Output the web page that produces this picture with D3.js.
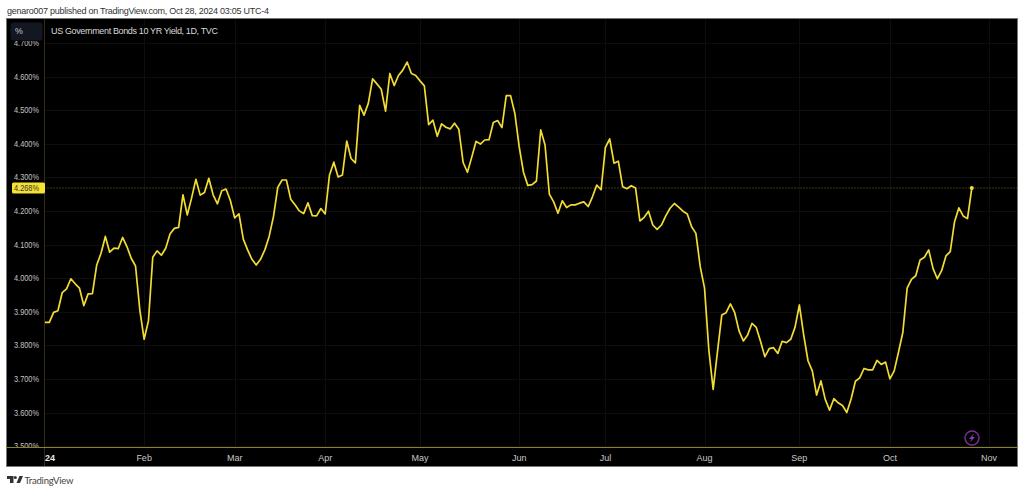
<!DOCTYPE html>
<html><head><meta charset="utf-8">
<style>html,body{margin:0;padding:0;background:#fff;overflow:hidden}svg{display:block}text{font-family:"Liberation Sans",sans-serif}</style>
<script src="https://cdnjs.cloudflare.com/ajax/libs/d3/7.8.5/d3.min.js"></script>
</head><body><svg id="c" width="1024" height="492"></svg>
<script>
const yields=[3.868,3.868,3.898,3.903,3.957,3.968,3.998,3.983,3.970,3.918,3.953,3.954,4.039,4.074,4.124,4.077,4.089,4.088,4.121,4.094,4.059,4.036,3.905,3.818,3.873,4.062,4.081,4.068,4.089,4.131,4.148,4.151,4.248,4.188,4.238,4.294,4.247,4.255,4.297,4.248,4.221,4.260,4.265,4.231,4.179,4.191,4.116,4.084,4.056,4.039,4.056,4.084,4.124,4.183,4.270,
4.292,4.292,4.235,4.218,4.200,4.192,4.224,4.186,4.185,4.207,4.191,4.307,4.345,4.301,4.307,4.408,4.356,4.343,4.514,4.485,4.520,4.593,4.578,4.562,4.497,4.609,4.573,4.603,4.619,4.643,4.609,4.603,4.587,4.572,4.457,4.470,4.422,4.459,4.449,4.444,4.461,4.443,4.344,4.315,4.360,4.407,4.399,4.411,4.412,4.463,4.469,4.448,4.543,4.543,
4.490,4.391,4.315,4.276,4.278,4.289,4.441,4.396,4.250,4.227,4.193,4.230,4.210,4.218,4.218,4.223,4.227,4.213,4.242,4.277,4.263,4.389,4.414,4.342,4.348,4.272,4.266,4.275,4.268,4.170,4.181,4.199,4.158,4.145,4.158,4.185,4.208,4.222,4.211,4.199,4.191,4.153,4.133,
4.034,3.970,3.786,3.669,3.781,3.890,3.897,3.923,3.897,3.843,3.813,3.831,3.865,3.853,3.811,3.766,3.790,3.793,3.776,3.812,3.808,3.818,3.854,3.920,3.831,3.754,3.724,3.652,3.694,3.639,3.607,3.641,3.629,3.621,3.600,3.640,3.693,3.703,3.731,3.727,3.727,3.755,3.743,3.750,3.700,3.724,3.780,3.838,3.970,3.996,4.007,4.054,
4.062,4.084,4.029,3.998,4.022,4.066,4.079,4.168,4.209,4.185,4.177,4.268];
const priceTicks=[3.5,3.6,3.7,3.8,3.9,4.0,4.1,4.2,4.3,4.4,4.5,4.6,4.7];
const monthLabels=["24","Feb","Mar","Apr","May","Jun","Jul","Aug","Sep","Oct","Nov"];
const monthIndex=[0.5,23,44,65,87,110,130,153,175,196,219];
const lastPrice=4.268;
const titleText="US Government Bonds 10 YR Yield, 1D, TVC";
const pubText="genaro007 published on TradingView.com, Oct 28, 2024 03:05 UTC-4";

const svg=d3.select("#c");
const x=d3.scaleLinear().domain([0,215]).range([45,971.8]);
const y=d3.scaleLinear().domain([3.6,4.6]).range([412.5,76.5]);
const L=7,R=1017,T=19,B=466,AX=44.5,AY=447.5;

svg.append("text").attr("x",7).attr("y",14).attr("font-size",9).attr("fill","#333").attr("textLength",262).text(pubText);
svg.append("rect").attr("x",L-.5).attr("y",T-.5).attr("width",R-L+1).attr("height",B-T+1).attr("fill","#000").attr("stroke","#777");

const defs=svg.append("defs");
defs.append("clipPath").attr("id","yl").append("rect").attr("x",L).attr("y",41).attr("width",AX-L).attr("height",AY-41);

const grid=svg.append("g").attr("stroke","#0e0e0a").attr("stroke-width",1);
grid.selectAll("line.h").data(priceTicks).join("line").attr("x1",AX).attr("x2",R).attr("y1",d=>Math.round(y(d))+.5).attr("y2",d=>Math.round(y(d))+.5);
grid.selectAll("line.v").data(monthIndex.slice(1)).join("line").attr("y1",T).attr("y2",AY).attr("x1",d=>Math.round(x(d))+.5).attr("x2",d=>Math.round(x(d))+.5);

svg.append("line").attr("x1",AX).attr("x2",R).attr("y1",y(lastPrice)).attr("y2",y(lastPrice)).attr("stroke","#7a7026").attr("stroke-width",1).attr("stroke-dasharray","1 2");

svg.append("g").attr("clip-path","url(#yl)").selectAll("text").data(priceTicks).join("text")
 .attr("x",14).attr("y",d=>y(d)+3).attr("font-size",8.4).attr("textLength",25).attr("lengthAdjust","spacingAndGlyphs").attr("fill","#c4c4c4").text(d=>d.toFixed(3)+"%");

svg.append("line").attr("x1",AX).attr("x2",AX).attr("y1",T).attr("y2",B).attr("stroke","#332e0e");
svg.append("line").attr("x1",L).attr("x2",R).attr("y1",AY).attr("y2",AY).attr("stroke","#8f8220");

svg.append("path").datum(yields).attr("fill","none").attr("stroke","#f2dc33").attr("stroke-width",1.7).attr("stroke-linejoin","round")
 .attr("d",d3.line().x((d,i)=>x(i)).y(d=>y(d)));
svg.append("circle").attr("cx",x(215)).attr("cy",y(lastPrice)).attr("r",2).attr("fill","#f5e034");

svg.append("rect").attr("x",12).attr("y",y(lastPrice)-5.5).attr("width",33).attr("height",11).attr("rx",1.5).attr("fill","#f5e034");
svg.append("text").attr("x",14).attr("y",y(lastPrice)+3).attr("font-size",8.4).attr("textLength",25).attr("lengthAdjust","spacingAndGlyphs").attr("fill","#333").text(lastPrice.toFixed(3)+"%");

svg.append("rect").attr("x",10.5).attr("y",22.5).attr("width",32).attr("height",18).attr("rx",3).attr("fill","#131722");
svg.append("text").attr("x",19).attr("y",33.5).attr("text-anchor","middle").attr("font-size",8.8).attr("fill","#c8c8c8").text("%");
svg.append("text").attr("x",51).attr("y",33.5).attr("font-size",9).attr("fill","#d8d8d8").attr("textLength",167).text(titleText);

svg.append("g").selectAll("text").data(monthLabels).join("text")
 .attr("x",(d,i)=>i===0?50:x(monthIndex[i]))
 .attr("y",460.5).attr("text-anchor","middle").attr("font-size",9)
 .attr("font-weight",(d,i)=>i===0?"bold":"normal").attr("fill",(d,i)=>i===0?"#e8e8e8":"#c8c8c8").text(d=>d);

const bolt=svg.append("g").attr("transform","translate(972,438)");
bolt.append("circle").attr("r",7).attr("fill","none").attr("stroke","#7b2f9b").attr("stroke-width",1.4);
bolt.append("path").attr("d","M2,-4.5 L-3,1 L-0.5,1 L-2,4.5 L3,-1 L0.5,-1 Z").attr("fill","#8a3aab");

const logo=svg.append("g").attr("transform","translate(7,476)").attr("fill","#333");
logo.append("path").attr("d","M0,0 H6.5 V7 H3 V3 H0 Z");
logo.append("circle").attr("cx",8.3).attr("cy",1.5).attr("r",1.5);
logo.append("path").attr("d","M9.5,7 L12.5,0 H16 L13,7 Z");
svg.append("text").attr("x",24.5).attr("y",484).style("font-family","Lato").attr("font-size",9.5).attr("fill","#444").attr("textLength",49).text("TradingView");
</script></body></html>
